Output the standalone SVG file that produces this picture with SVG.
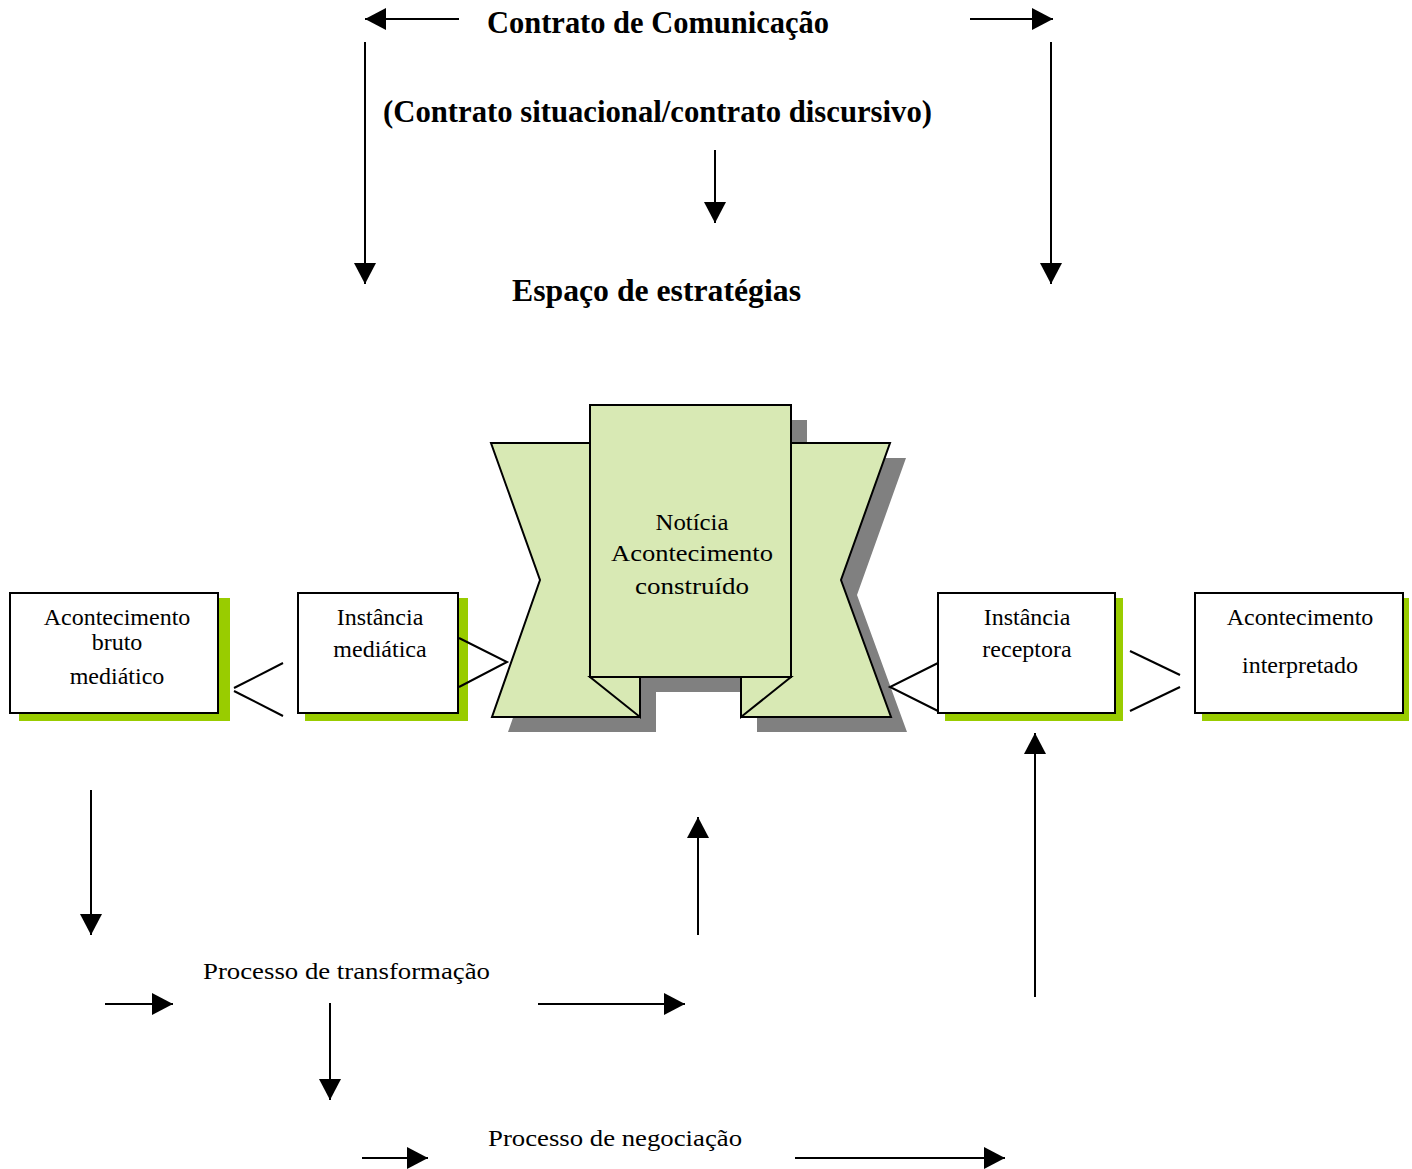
<svg xmlns="http://www.w3.org/2000/svg" width="1412" height="1169" viewBox="0 0 1412 1169">
<defs>
<marker id="ah" markerUnits="userSpaceOnUse" markerWidth="22" markerHeight="22" refX="21" refY="11" orient="auto" viewBox="0 0 22 22">
<path d="M0,0 L21,11 L0,22 z" fill="#000"/>
</marker>
</defs>
<style>
.t{font-family:"Liberation Serif","Times New Roman",serif;fill:#000}
.b{font-weight:bold;font-size:31px}
.r{font-size:24px}
.box{fill:#fff;stroke:#000;stroke-width:2}
.sh{fill:#99cc00}
.rib{fill:#d8e9b4;stroke:#000;stroke-width:2;stroke-linejoin:miter}
.gs{fill:#808080}
.c line,.c polyline{stroke:#000;stroke-width:2;fill:none}
.a{marker-end:url(#ah)}
</style>
<rect width="1412" height="1169" fill="#fff"/>

<g id="titles">
<text class="t b" x="487" y="33" textLength="342" lengthAdjust="spacingAndGlyphs">Contrato de Comunicação</text>
<text class="t b" x="383" y="122" textLength="549" lengthAdjust="spacingAndGlyphs">(Contrato situacional/contrato discursivo)</text>
<text class="t b" x="512" y="301" textLength="289" lengthAdjust="spacingAndGlyphs">Espaço de estratégias</text>
</g>

<g id="noticia">
<g transform="translate(16,15)">
<polygon class="gs" points="491,443 640,443 640,717 492,717 540,580"/>
<polygon class="gs" points="890,443 741,443 741,717 891,717 841,580"/>
<rect class="gs" x="590" y="405" width="201" height="272"/>
</g>
<polygon class="rib" points="491,443 640,443 640,717 492,717 540,580"/>
<polygon class="rib" points="890,443 741,443 741,717 891,717 841,580"/>
<polygon class="rib" points="590,677 640,677 640,717"/>
<polygon class="rib" points="791,677 741,677 741,717"/>
<rect class="rib" x="590" y="405" width="201" height="272"/>
<text class="t r" x="692" y="530" text-anchor="middle" textLength="73" lengthAdjust="spacingAndGlyphs">Notícia</text>
<text class="t r" x="692" y="561" text-anchor="middle" textLength="162" lengthAdjust="spacingAndGlyphs">Acontecimento</text>
<text class="t r" x="692" y="594" text-anchor="middle" textLength="114" lengthAdjust="spacingAndGlyphs">construído</text>
</g>

<g id="acontecimento-bruto">
<rect class="sh" x="19" y="598" width="211" height="123"/>
<rect class="box" x="10" y="593" width="208" height="120"/>
<text class="t r" x="117" y="625" text-anchor="middle">Acontecimento</text>
<text class="t r" x="117" y="650" text-anchor="middle">bruto</text>
<text class="t r" x="117" y="684" text-anchor="middle">mediático</text>
</g>

<g id="instancia-mediatica">
<rect class="sh" x="305" y="598" width="163" height="123"/>
<rect class="box" x="298" y="593" width="160" height="120"/>
<text class="t r" x="380" y="625" text-anchor="middle">Instância</text>
<text class="t r" x="380" y="657" text-anchor="middle">mediática</text>
</g>

<g id="instancia-receptora">
<rect class="sh" x="945" y="598" width="178" height="123"/>
<rect class="box" x="938" y="593" width="177" height="120"/>
<text class="t r" x="1027" y="625" text-anchor="middle">Instância</text>
<text class="t r" x="1027" y="657" text-anchor="middle">receptora</text>
</g>

<g id="acontecimento-interpretado">
<rect class="sh" x="1202" y="598" width="207" height="123"/>
<rect class="box" x="1195" y="593" width="208" height="120"/>
<text class="t r" x="1300" y="625" text-anchor="middle">Acontecimento</text>
<text class="t r" x="1300" y="673" text-anchor="middle">interpretado</text>
</g>

<g id="processo-transformacao">
<text class="t r" x="203" y="979" textLength="287" lengthAdjust="spacingAndGlyphs">Processo de transformação</text>
</g>
<g id="processo-negociacao">
<text class="t r" x="488" y="1146" textLength="254" lengthAdjust="spacingAndGlyphs">Processo de negociação</text>
</g>

<g id="connectors" class="c">
<line x1="283" y1="663" x2="234" y2="688"/>
<line x1="234" y1="691" x2="283" y2="716"/>
<polyline points="459,638 507,662 459,687"/>
<polyline points="938,663 890,687 938,711"/>
<line x1="1130" y1="651" x2="1180" y2="675"/>
<line x1="1180" y1="687" x2="1130" y2="711"/>

<line class="a" x1="459" y1="19" x2="365" y2="19"/>
<line class="a" x1="970" y1="19" x2="1053" y2="19"/>
<line class="a" x1="365" y1="42" x2="365" y2="284"/>
<line class="a" x1="1051" y1="42" x2="1051" y2="284"/>
<line class="a" x1="715" y1="150" x2="715" y2="223"/>
<line class="a" x1="91" y1="790" x2="91" y2="935"/>
<line class="a" x1="105" y1="1004" x2="173" y2="1004"/>
<line class="a" x1="330" y1="1003" x2="330" y2="1100"/>
<line class="a" x1="538" y1="1004" x2="685" y2="1004"/>
<line class="a" x1="698" y1="935" x2="698" y2="817"/>
<line class="a" x1="1035" y1="997" x2="1035" y2="733"/>
<line class="a" x1="362" y1="1158" x2="428" y2="1158"/>
<line class="a" x1="795" y1="1158" x2="1005" y2="1158"/>
</g>
</svg>
